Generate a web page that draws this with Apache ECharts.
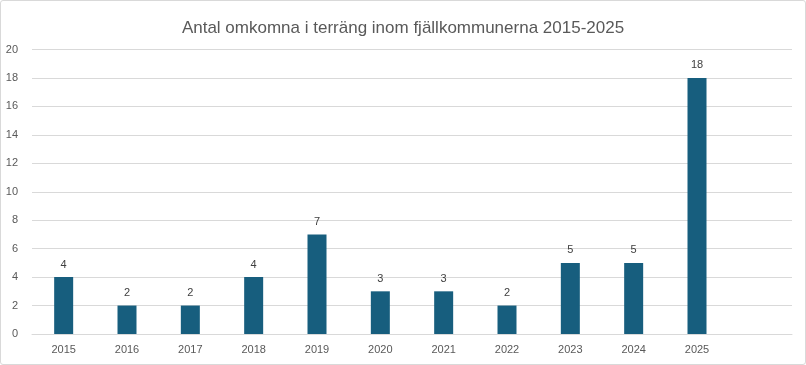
<!DOCTYPE html>
<html><head><meta charset="utf-8">
<script src="https://cdn.jsdelivr.net/npm/echarts@6/dist/echarts.min.js"></script>
<style>
html,body{margin:0;padding:0;background:#fff;}
#c{position:absolute;left:0;top:0;width:804px;height:363px;border:1px solid #d9d9d9;border-radius:3px;}
</style></head><body>
<div id="c"></div>
<script>
const titleText = 'Antal omkomna i terräng inom fjällkommunerna 2015-2025';
const categories = ['2015','2016','2017','2018','2019','2020','2021','2022','2023','2024','2025',''];
const values = [4,2,2,4,7,3,3,2,5,5,18,null];
const yMin = 0, yMax = 20, yStep = 2;

const chart = echarts.init(document.getElementById('c'), null, {renderer:'canvas'});
chart.setOption({
  animation:false,
  title:{text:titleText,left:'center',top:14,textStyle:{fontFamily:'Liberation Sans, Arial, sans-serif',fontSize:17,fontWeight:'normal',color:'#595959'}},
  grid:{left:31,right:13,top:48.5,bottom:30,containLabel:false},
  xAxis:{type:'category',data:categories,axisTick:{show:false},
    axisLine:{lineStyle:{color:'#d9d9d9'}},
    axisLabel:{color:'#595959',fontSize:11,fontFamily:'Liberation Sans, Arial, sans-serif',margin:10}},
  yAxis:{type:'value',min:yMin,max:yMax,interval:yStep,
    splitLine:{lineStyle:{color:'#d9d9d9'}},axisLine:{show:false},axisTick:{show:false},
    axisLabel:{color:'#595959',fontSize:11,fontFamily:'Liberation Sans, Arial, sans-serif',margin:14}},
  series:[{type:'bar',data:values,barWidth:19,itemStyle:{color:'#175E7E'},
    label:{show:true,position:'top',distance:7,color:'#404040',fontSize:11,fontFamily:'Liberation Sans, Arial, sans-serif'}}]
});
</script></body></html>
